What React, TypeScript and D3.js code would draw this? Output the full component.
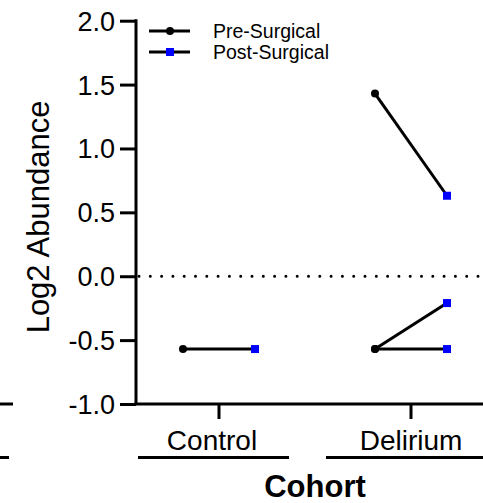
import React, { useEffect, useRef } from 'react';
import * as d3 from 'd3';

const cohorts = ['Control', 'Delirium'];
const pairCohort = ['Control', 'Delirium', 'Delirium', 'Delirium'];
const preValues = [-0.57, 1.43, -0.57, -0.57];
const postValues = [-0.57, 0.63, -0.21, -0.57];
const yTicks = [-1.0, -0.5, 0.0, 0.5, 1.0, 1.5, 2.0];
const seriesNames = ['Pre-Surgical', 'Post-Surgical'];

const FONT = '"Liberation Sans", Arial, sans-serif';

const App: React.FC = () => {
  const svgRef = useRef<SVGSVGElement>(null);

  useEffect(() => {
    if (!svgRef.current) return;
    const svg = d3.select(svgRef.current);
    svg.selectAll('*').remove();

    const W = 483;
    const H = 503;
    const left = 136;
    const bottom = 404;

    const y = d3.scaleLinear().domain([-1, 2]).range([bottom, 20.7]);
    const x = d3.scalePoint<string>().domain(cohorts).range([219, 411]);
    const offset = 36;
    const labelShift: Record<string, number> = { Control: -7, Delirium: 0 };

    // cut-off neighbour panel fragments at the left edge
    svg.append('line').attr('x1', 0).attr('x2', 13).attr('y1', bottom).attr('y2', bottom)
      .attr('stroke', '#000').attr('stroke-width', 3);
    svg.append('line').attr('x1', 0).attr('x2', 9).attr('y1', 457.5).attr('y2', 457.5)
      .attr('stroke', '#000').attr('stroke-width', 3);

    // y axis
    const fmt = d3.format('.1f');
    const yAxis = svg.append('g')
      .attr('transform', `translate(${left},0)`)
      .call(d3.axisLeft(y).tickValues(yTicks)
        .tickFormat(d => fmt(d as number).replace('−', '-'))
        .tickSize(16).tickPadding(5));
    yAxis.select('.domain').remove();
    yAxis.selectAll('line').attr('stroke', '#000').attr('stroke-width', 3);
    yAxis.selectAll('text')
      .attr('font-family', FONT).attr('font-size', 27).attr('fill', '#000')
      .attr('dy', '0.35em');
    svg.append('line').attr('x1', left).attr('x2', left).attr('y1', y(2) - 1.5).attr('y2', bottom)
      .attr('stroke', '#000').attr('stroke-width', 3);

    // x axis
    svg.append('line').attr('x1', left - 1.5).attr('x2', W).attr('y1', bottom).attr('y2', bottom)
      .attr('stroke', '#000').attr('stroke-width', 3);
    cohorts.forEach(c => {
      svg.append('line').attr('x1', x(c)!).attr('x2', x(c)!).attr('y1', bottom).attr('y2', 419)
        .attr('stroke', '#000').attr('stroke-width', 3);
      svg.append('text').attr('x', x(c)! + labelShift[c]).attr('y', 450)
        .attr('text-anchor', 'middle').attr('font-family', FONT).attr('font-size', 28)
        .text(c);
    });
    // group brackets
    svg.append('line').attr('x1', 138).attr('x2', 289).attr('y1', 457.5).attr('y2', 457.5)
      .attr('stroke', '#000').attr('stroke-width', 3);
    svg.append('line').attr('x1', 326).attr('x2', W).attr('y1', 457.5).attr('y2', 457.5)
      .attr('stroke', '#000').attr('stroke-width', 3);

    svg.append('text').attr('x', 315).attr('y', 497)
      .attr('text-anchor', 'middle').attr('font-family', FONT).attr('font-size', 31)
      .attr('font-weight', 'bold').text('Cohort');

    svg.append('text')
      .attr('transform', 'translate(49,217) rotate(-90)')
      .attr('text-anchor', 'middle').attr('font-family', FONT).attr('font-size', 31)
      .text('Log2 Abundance');

    // zero reference line
    svg.append('line').attr('x1', 139).attr('x2', W).attr('y1', y(0)).attr('y2', y(0))
      .attr('stroke', '#000').attr('stroke-width', 3).attr('stroke-linecap', 'round')
      .attr('stroke-dasharray', '0 11.3');

    // paired lines
    const pairs = pairCohort.map((c, i) => ({
      x0: x(c)! - offset, x1: x(c)! + offset, y0: y(preValues[i]), y1: y(postValues[i])
    }));
    svg.append('g').selectAll('line').data(pairs).join('line')
      .attr('x1', d => d.x0).attr('x2', d => d.x1)
      .attr('y1', d => d.y0).attr('y2', d => d.y1)
      .attr('stroke', '#000').attr('stroke-width', 3);
    svg.append('g').selectAll('circle').data(pairs).join('circle')
      .attr('cx', d => d.x0).attr('cy', d => d.y0).attr('r', 4).attr('fill', '#000');
    svg.append('g').selectAll('rect').data(pairs).join('rect')
      .attr('x', d => d.x1 - 4).attr('y', d => d.y1 - 4).attr('width', 8).attr('height', 8)
      .attr('fill', '#0000ff');

    // legend
    const legendY = [31, 52];
    seriesNames.forEach((name, i) => {
      const g = svg.append('g');
      g.append('line').attr('x1', 149).attr('x2', 190).attr('y1', legendY[i]).attr('y2', legendY[i])
        .attr('stroke', '#000').attr('stroke-width', 3);
      if (i === 0) {
        g.append('circle').attr('cx', 170).attr('cy', legendY[i]).attr('r', 4).attr('fill', '#000');
      } else {
        g.append('rect').attr('x', 166).attr('y', legendY[i] - 4).attr('width', 8).attr('height', 8)
          .attr('fill', '#0000ff');
      }
      g.append('text').attr('x', 213).attr('y', legendY[i] + 7)
        .attr('font-family', FONT).attr('font-size', 19.5).text(name);
    });

    svg.attr('width', W).attr('height', H);
  }, []);

  return (
    <svg
      ref={svgRef}
      style={{ position: 'absolute', left: 0, top: 0, display: 'block', background: '#fff' }}
    />
  );
};

export default App;
